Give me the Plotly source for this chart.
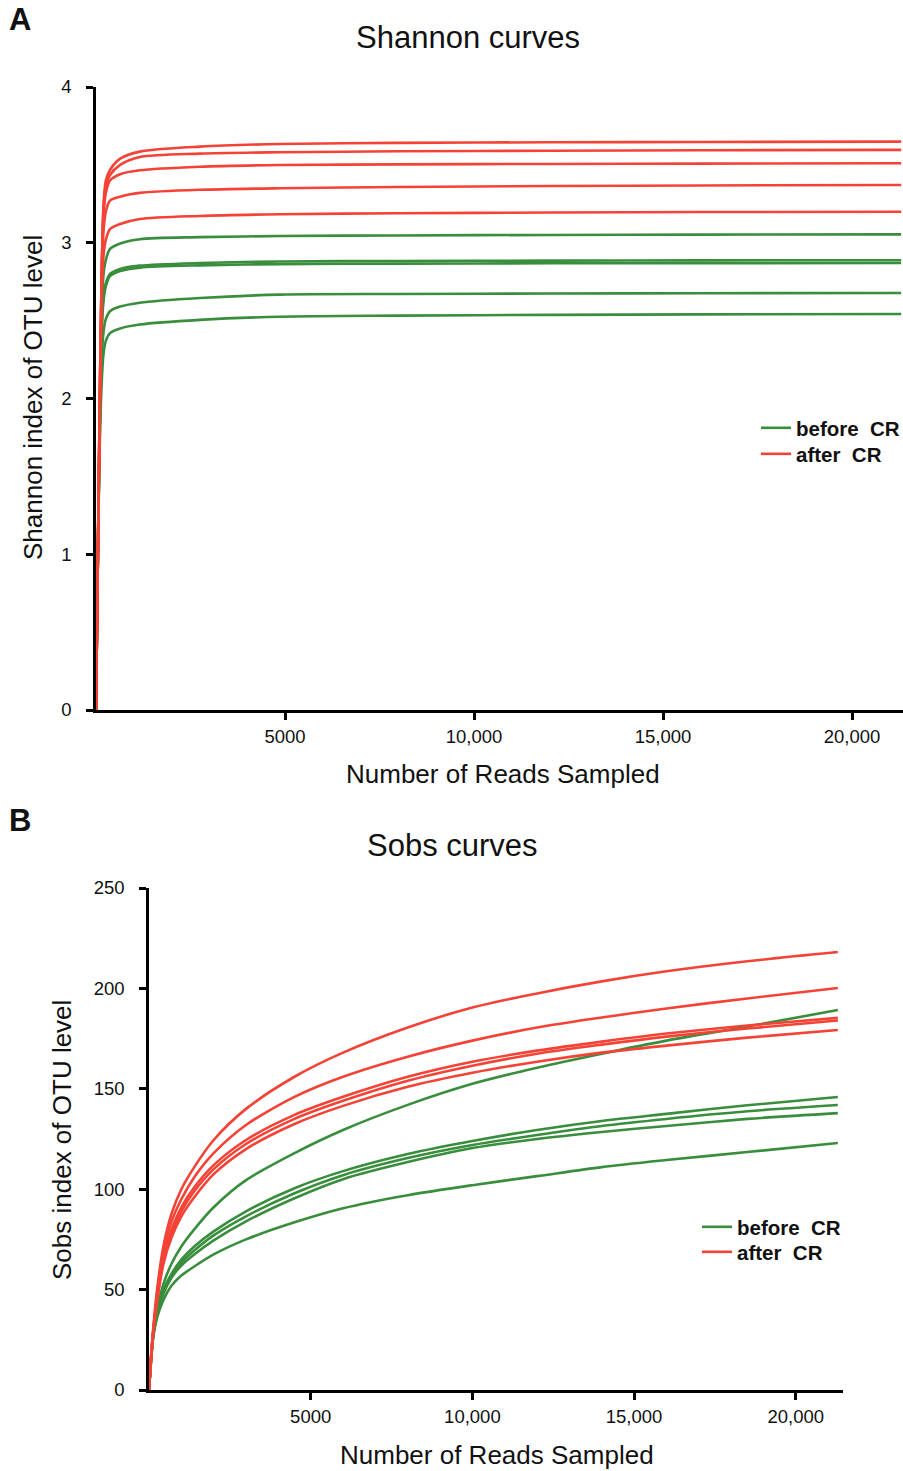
import plotly.graph_objects as go

# ---------------- data ----------------
reads_shannon = [0, 40, 90, 150, 200, 260, 370, 640, 1160, 2750, 4870, 8000, 12000, 16000, 21300]
shannon_before = [
    [0, 0.8, 1.7, 2.55, 2.80, 2.89, 2.96, 2.995, 3.023, 3.036, 3.043, 3.047, 3.050, 3.052, 3.054],
    [0, 0.8, 1.7, 2.45, 2.66, 2.74, 2.80, 2.832, 2.853, 2.870, 2.880, 2.883, 2.885, 2.887, 2.888],
    [0, 0.8, 1.7, 2.42, 2.63, 2.72, 2.785, 2.818, 2.840, 2.855, 2.863, 2.866, 2.868, 2.869, 2.870],
    [0, 0.8, 1.65, 2.25, 2.43, 2.51, 2.56, 2.59, 2.615, 2.645, 2.667, 2.671, 2.674, 2.676, 2.677],
    [0, 0.8, 1.6, 2.1, 2.29, 2.37, 2.42, 2.45, 2.475, 2.505, 2.525, 2.532, 2.537, 2.540, 2.543],
]
shannon_after = [
    [0, 0.8, 1.8, 2.8, 3.25, 3.40, 3.467, 3.54, 3.585, 3.617, 3.634, 3.641, 3.645, 3.647, 3.649],
    [0, 0.8, 1.8, 2.8, 3.22, 3.36, 3.435, 3.50, 3.550, 3.572, 3.581, 3.587, 3.591, 3.594, 3.596],
    [0, 0.8, 1.8, 2.8, 3.18, 3.32, 3.40, 3.44, 3.465, 3.488, 3.499, 3.503, 3.506, 3.508, 3.510],
    [0, 0.8, 1.8, 2.75, 3.08, 3.20, 3.27, 3.296, 3.32, 3.340, 3.350, 3.358, 3.364, 3.368, 3.371],
    [0, 0.8, 1.75, 2.65, 2.92, 3.02, 3.088, 3.12, 3.152, 3.172, 3.183, 3.189, 3.194, 3.197, 3.199],
]

reads_sobs = [0, 60, 130, 250, 450, 700, 1000, 1400, 2000, 3000, 4500, 6000, 8000,
              10000, 12000, 14000, 16000, 18500, 21300]
sobs_before = [
    [0, 15, 28, 40, 53, 63, 71.5, 80, 91, 104.5, 118, 129.5, 142, 152.5, 160.5, 167.5, 174, 181, 189.2],
    [0, 14, 27, 38, 50, 58, 65, 71.5, 79, 89, 100.5, 109, 117.5, 124, 129.5, 134, 137.5, 141.8, 145.9],
    [0, 14, 27, 38, 49, 57, 63.5, 69.5, 77, 86.5, 98, 107, 115.5, 122, 127, 131.5, 135, 138.8, 141.9],
    [0, 14, 27, 37, 48, 56, 62, 67.5, 74.5, 84, 95.5, 105, 113.5, 120.5, 125, 128.5, 131.5, 135, 137.9],
    [0, 14, 26, 36, 45, 52, 57, 61.5, 67.5, 75, 83.5, 90.5, 97, 102, 106.5, 111, 114.5, 118.5, 123],
]
sobs_after = [
    [0, 16, 30, 50, 72, 88, 100, 111, 124.5, 140, 156, 168, 180.5, 190.5, 197.5, 203.5, 208.5, 213.5, 218.1],
    [0, 16, 30, 48, 69, 84, 95, 106, 118, 132, 146, 156, 166, 174, 180.5, 185.5, 190, 195, 200.2],
    [0, 15, 29, 46, 66, 80, 91, 101, 112, 124.5, 137, 146, 156, 163.5, 169, 173.5, 177.5, 181.5, 185.3],
    [0, 15, 29, 45, 65, 78, 89, 99, 110, 122.5, 135, 144, 154, 161.5, 167.5, 172, 176, 180, 184],
    [0, 15, 28, 44, 63, 76, 86.5, 96, 107.5, 120, 132.5, 141.5, 151, 158, 163.5, 168, 171.5, 175.5, 179.3],
]

x_tickvals = [5000, 10000, 15000, 20000]
x_ticktext = ["5000", "10,000", "15,000", "20,000"]
shannon_ticks = [0, 1, 2, 3, 4]
sobs_ticks = [0, 50, 100, 150, 200, 250]
group_names = ["before\u00a0 CR", "after\u00a0 CR"]

GREEN = "#388E3C"
RED = "#F44336"
W, H = 903, 1471
FONT = "Arial, Liberation Sans, sans-serif"

fig = go.Figure()

def add_group(xs, series, color, name, xa, ya, legend):
    for i, ys in enumerate(series):
        fig.add_trace(go.Scatter(
            x=xs, y=ys, mode="lines", xaxis=xa, yaxis=ya,
            line=dict(color=color, width=2.6, shape="spline", smoothing=0.8),
            name=name, legendgroup=name + legend, showlegend=(i == 0),
            legend=legend, hoverinfo="skip"))

add_group(reads_shannon, shannon_before, GREEN, group_names[0], "x", "y", "legend")
add_group(reads_shannon, shannon_after, RED, group_names[1], "x", "y", "legend2")
add_group(reads_sobs, sobs_before, GREEN, group_names[0], "x2", "y2", "legend3")
add_group(reads_sobs, sobs_after, RED, group_names[1], "x2", "y2", "legend4")

def px_x(p):
    return p / W

def px_y(p):
    return 1 - p / H

axis_common = dict(showline=True, linecolor="black", linewidth=2.5, ticks="outside",
                   ticklen=7, tickwidth=2.5, tickcolor="black", showgrid=False,
                   zeroline=False, automargin=False,
                   tickfont=dict(family=FONT, size=18.5, color="#111"))

def legend_at(x, y):
    return dict(x=px_x(x), y=px_y(y), xanchor="left", yanchor="top",
                font=dict(family=FONT, size=20.5, color="#111", weight="bold"),
                bgcolor="rgba(0,0,0,0)", tracegroupgap=0, itemwidth=30)

fig.update_layout(
    width=W, height=H, margin=dict(l=0, r=0, t=0, b=0, autoexpand=False),
    paper_bgcolor="white", plot_bgcolor="white",
    xaxis=dict(domain=[px_x(96), 1.0], range=[0, 21349], tickvals=x_tickvals,
               ticktext=x_ticktext, anchor="y", ticklabelstandoff=1, **axis_common),
    yaxis=dict(domain=[px_y(710), px_y(87)], range=[0, 4], tickvals=shannon_ticks,
               anchor="x", ticklabelstandoff=11, **axis_common),
    xaxis2=dict(domain=[px_x(149), px_x(843)], range=[0, 21460], tickvals=x_tickvals,
                ticktext=x_ticktext, anchor="y2", ticklabelstandoff=1, **axis_common),
    yaxis2=dict(domain=[px_y(1390), px_y(888)], range=[0, 250], tickvals=sobs_ticks,
                anchor="x2", ticklabelstandoff=11, **axis_common),
    legend=legend_at(756, 408),
    legend2=legend_at(756, 434),
    legend3=legend_at(697, 1207),
    legend4=legend_at(697, 1232),
)

def ann(text, x, y, size, bold=False, angle=0):
    fig.add_annotation(text=text, x=px_x(x), y=px_y(y), xref="paper", yref="paper",
                       showarrow=False, textangle=angle, xanchor="center", yanchor="middle",
                       font=dict(family=FONT, size=size, color="#111",
                                 weight="bold" if bold else "normal"))

ann("A", 20, 20, 31, bold=True)
ann("B", 20, 820, 31, bold=True)
ann("Shannon curves", 468, 38, 31)
ann("Sobs curves", 453, 846, 31)
ann("Number of Reads Sampled", 503, 774, 26)
ann("Number of Reads Sampled", 497, 1455, 26)
ann("Shannon index of OTU level", 33, 398, 26, angle=-90)
ann("Sobs index of OTU level", 62, 1140, 26, angle=-90)

fig.write_html("out.html", config={"displayModeBar": False},
               post_script="document.body.style.margin='0px';document.body.style.overflow='hidden';")
